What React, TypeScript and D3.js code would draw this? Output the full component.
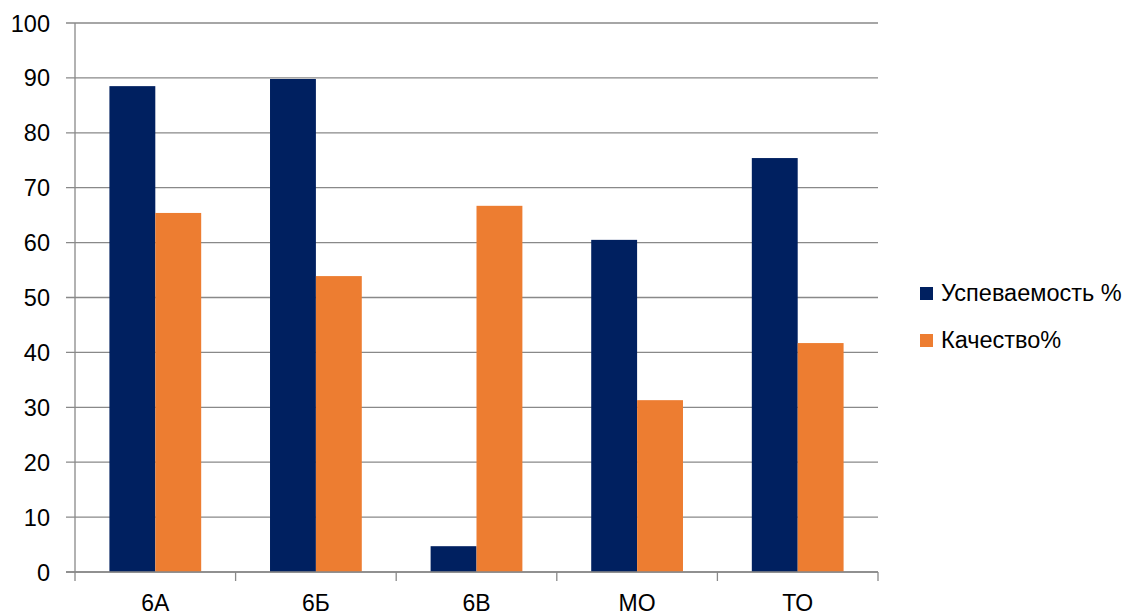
import React from "react";
import * as d3 from "d3";

const categories = ["6А", "6Б", "6В", "МО", "ТО"];
const uspevaemost = [88.5, 89.8, 4.7, 60.5, 75.4];
const kachestvo = [65.4, 53.9, 66.7, 31.3, 41.7];
const seriesNames = ["Успеваемость %", "Качество%"];
const seriesColors = ["#002060", "#ED7D31"];
const yTicks = [0, 10, 20, 30, 40, 50, 60, 70, 80, 90, 100];

const W = 1125;
const H = 616;
const left = 75;
const right = 878;
const top = 23;
const bottom = 572;
const font = "'Liberation Sans', Arial, sans-serif";

export default function App() {
  const x = d3.scaleBand().domain(categories).range([left, right]).paddingInner(0).paddingOuter(0);
  const y = d3.scaleLinear().domain([0, 100]).range([bottom, top]);
  const bw = x.bandwidth() / 3.5;
  const series = [uspevaemost, kachestvo];
  const boundaries = categories.map((c) => x(c) as number).concat([right]);

  return (
    <svg width={W} height={H} style={{ position: "absolute", left: 0, top: 0, background: "#fff" }}>
      {yTicks.map((t) => (
        <g key={t}>
          <line x1={left - 9} x2={right} y1={y(t)} y2={y(t)} stroke="#898989" strokeWidth={1.3} />
          <text x={50} y={y(t) + 8.5} textAnchor="end" fontFamily={font} fontSize={23.5} fill="#000">
            {t}
          </text>
        </g>
      ))}
      <line x1={left} x2={left} y1={top} y2={bottom} stroke="#898989" strokeWidth={1.3} />
      {boundaries.map((b, i) => (
        <line key={i} x1={b} x2={b} y1={bottom} y2={bottom + 9} stroke="#898989" strokeWidth={1.3} />
      ))}
      {series.map((vals, si) =>
        vals.map((v, i) => {
          const cx = (x(categories[i]) as number) + x.bandwidth() / 2;
          const bx = cx - bw + si * bw;
          return (
            <rect key={si + "-" + i} x={bx} y={y(v)} width={bw} height={bottom - y(v)} fill={seriesColors[si]} />
          );
        })
      )}
      <line x1={left - 9} x2={right} y1={bottom} y2={bottom} stroke="#898989" strokeWidth={1.3} />
      {categories.map((c) => (
        <text key={c} x={(x(c) as number) + x.bandwidth() / 2} y={611} textAnchor="middle" fontFamily={font} fontSize={23} fill="#000">
          {c}
        </text>
      ))}
      {seriesNames.map((n, i) => (
        <g key={n}>
          <rect x={920} y={287 + i * 47} width={13} height={13} fill={seriesColors[i]} />
          <text x={941} y={301 + i * 47} fontFamily={font} fontSize={23.5} fill="#000">
            {n}
          </text>
        </g>
      ))}
    </svg>
  );
}
